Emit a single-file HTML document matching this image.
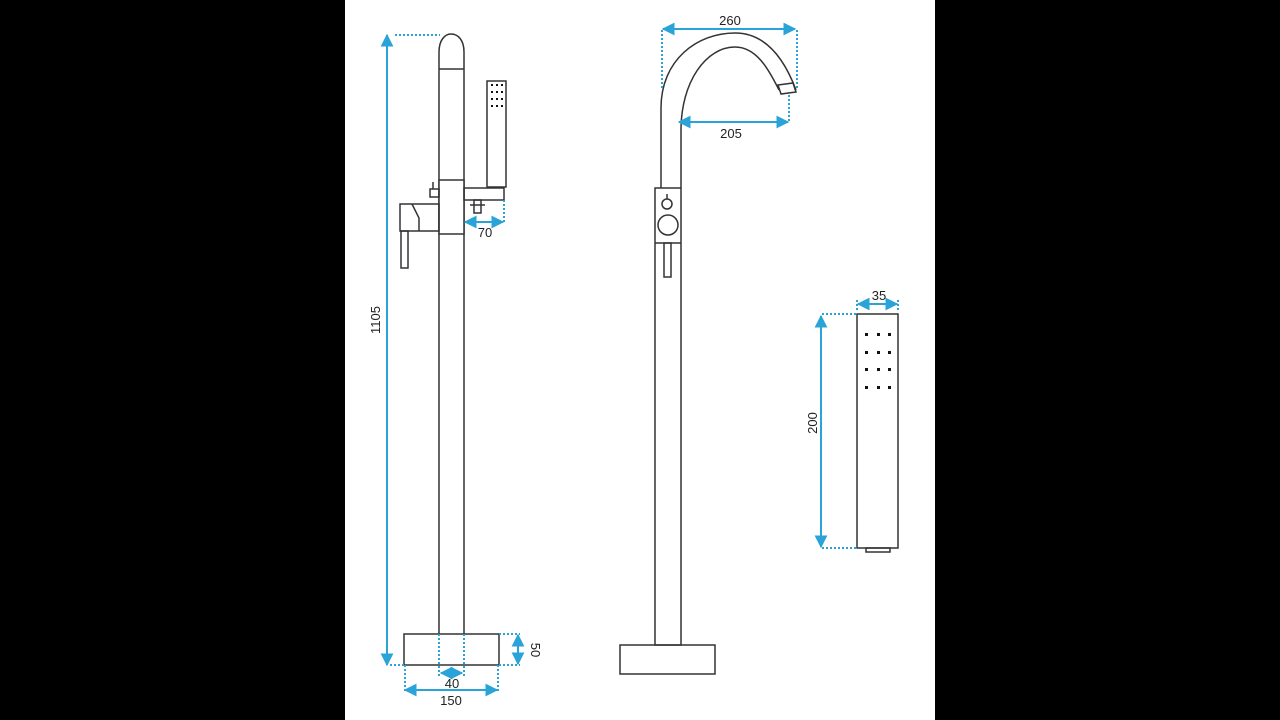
<!DOCTYPE html>
<html><head><style>
html,body{margin:0;padding:0;background:#000;}
svg{display:block;}
text{font-family:"Liberation Sans",sans-serif;font-size:13px;fill:#222;}
</style></head><body>
<svg width="1280" height="720" viewBox="0 0 1280 720" xmlns="http://www.w3.org/2000/svg">
<defs>
<marker id="a" viewBox="0 0 10 10" refX="9" refY="5" markerWidth="6.5" markerHeight="6.5" orient="auto-start-reverse"><path d="M0,0 L10,5 L0,10 z" fill="#29a3d8"/></marker>
</defs>
<rect x="345" y="0" width="590" height="720" fill="#fff"/>
<g fill="none" stroke="#333" stroke-width="1.5">
<!-- left tap -->
<path d="M439,634 L439,52 C439,40 445,34 451,34 C458,34 464,40 464,52 L464,634"/>
<line x1="439" y1="69" x2="464" y2="69"/>
<rect x="439" y="180" width="25" height="54" fill="#fff"/>
<rect x="404" y="634" width="95" height="31"/>
<rect x="487" y="81" width="19" height="106"/>
<rect x="464" y="188" width="40" height="12"/>
<rect x="474" y="200" width="7" height="13"/>
<line x1="470" y1="205" x2="485" y2="205"/>
<rect x="400" y="204" width="39" height="27"/>
<path d="M412,204 L419,218 L419,231"/>
<rect x="401" y="231" width="7" height="37"/>
<rect x="430" y="189" width="9" height="8"/>
<line x1="433" y1="182" x2="433" y2="189"/>
<!-- middle tap -->
<path d="M661,188 L661,108 C661,60 697,33 735,33 C765,33 784,58 796,90"/>
<path d="M681,188 L681,130 C681,82 706,47 735,47 C756,47 768,68 779,90"/>
<path d="M778,85 L793,83 L796,92 L781,94 Z"/>
<rect x="655" y="188" width="26" height="457"/>
<line x1="655" y1="243" x2="681" y2="243"/>
<circle cx="667" cy="204" r="5"/>
<line x1="667" y1="194" x2="667" y2="199"/>
<circle cx="668" cy="225" r="10" fill="#fff"/>
<rect x="664" y="243" width="7" height="34"/>
<rect x="620" y="645" width="95" height="29"/>
<!-- right hand shower -->
<rect x="857" y="314" width="41" height="234"/>
<rect x="866" y="548" width="24" height="4"/>
</g>
<g fill="#111">
<g id="d"><rect x="865" y="333" width="3" height="3"/><rect x="877" y="333" width="3" height="3"/><rect x="888" y="333" width="3" height="3"/></g>
<use href="#d" y="18"/><use href="#d" y="35"/><use href="#d" y="53"/>
<g transform="translate(-374,-249)"><rect x="865" y="333" width="2" height="2"/><rect x="870" y="333" width="2" height="2"/><rect x="875" y="333" width="2" height="2"/></g>
<g transform="translate(-374,-242)"><rect x="865" y="333" width="2" height="2"/><rect x="870" y="333" width="2" height="2"/><rect x="875" y="333" width="2" height="2"/></g>
<g transform="translate(-374,-235)"><rect x="865" y="333" width="2" height="2"/><rect x="870" y="333" width="2" height="2"/><rect x="875" y="333" width="2" height="2"/></g>
<g transform="translate(-374,-228)"><rect x="865" y="333" width="2" height="2"/><rect x="870" y="333" width="2" height="2"/><rect x="875" y="333" width="2" height="2"/></g>
</g>
<!-- dotted -->
<g fill="none" stroke="#29a3d8" stroke-width="2" stroke-dasharray="2,2">
<line x1="395" y1="35" x2="440" y2="35"/>
<line x1="504" y1="200" x2="504" y2="222"/>
<line x1="390" y1="665" x2="404" y2="665"/>
<line x1="439" y1="634" x2="439" y2="677"/>
<line x1="464" y1="634" x2="464" y2="677"/>
<line x1="405" y1="665" x2="405" y2="692"/>
<line x1="498" y1="665" x2="498" y2="692"/>
<line x1="499" y1="634" x2="520" y2="634"/>
<line x1="499" y1="665" x2="520" y2="665"/>
<line x1="662" y1="30" x2="662" y2="90"/>
<line x1="797" y1="30" x2="797" y2="90"/>
<line x1="789" y1="95" x2="789" y2="123"/>
<line x1="822" y1="314" x2="857" y2="314"/>
<line x1="822" y1="548" x2="857" y2="548"/>
<line x1="857" y1="300" x2="857" y2="312"/>
<line x1="898" y1="300" x2="898" y2="312"/>
</g>
<!-- arrows -->
<g stroke="#29a3d8" stroke-width="2" marker-start="url(#a)" marker-end="url(#a)">
<line x1="387" y1="35" x2="387" y2="665"/>
<line x1="465" y1="222" x2="503" y2="222"/>
<line x1="441" y1="673" x2="462" y2="673"/>
<line x1="405" y1="690" x2="497" y2="690"/>
<line x1="518" y1="635" x2="518" y2="664"/>
<line x1="663" y1="29" x2="795" y2="29"/>
<line x1="679" y1="122" x2="788" y2="122"/>
<line x1="858" y1="304" x2="897" y2="304"/>
<line x1="821" y1="316" x2="821" y2="547"/>
</g>
<text x="380" y="320" text-anchor="middle" transform="rotate(-90 380 320)">1105</text>
<text x="485" y="237" text-anchor="middle">70</text>
<text x="452" y="688" text-anchor="middle">40</text>
<text x="451" y="705" text-anchor="middle">150</text>
<text x="531" y="650" text-anchor="middle" transform="rotate(90 531 650)">50</text>
<text x="730" y="25" text-anchor="middle">260</text>
<text x="731" y="138" text-anchor="middle">205</text>
<text x="879" y="300" text-anchor="middle">35</text>
<text x="817" y="423" text-anchor="middle" transform="rotate(-90 817 423)">200</text>
</svg>
</body></html>
